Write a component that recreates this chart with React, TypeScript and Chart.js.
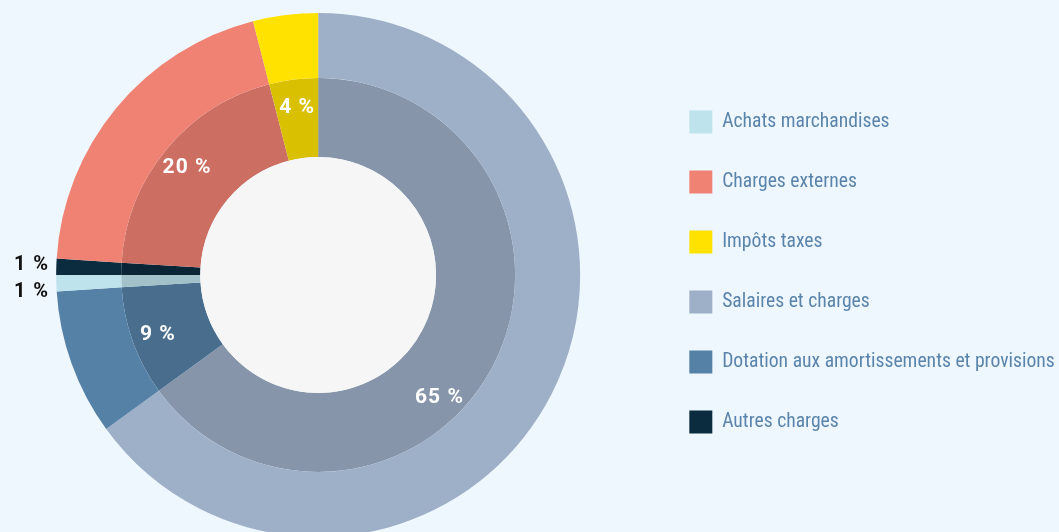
import React, { useEffect, useRef } from 'react';
import { Chart, registerables } from 'chart.js';

Chart.register(...registerables);

// ---- data (clockwise from 12 o'clock) ----
const categories = [
  'Salaires et charges',
  'Dotation aux amortissements et provisions',
  'Achats marchandises',
  'Autres charges',
  'Charges externes',
  'Impôts taxes',
];
const shares = [65, 9, 1, 1, 20, 4];
const percentLabels = ['65 %', '9 %', '1 %', '1 %', '20 %', '4 %'];
const legendOrder = [
  'Achats marchandises',
  'Charges externes',
  'Impôts taxes',
  'Salaires et charges',
  'Dotation aux amortissements et provisions',
  'Autres charges',
];
const sliceColors = ['#9eafc8', '#5681a6', '#bee3ec', '#0b2c3f', '#f08273', '#ffe200'];

// ---- style ----
const FAMILY = "'Roboto Condensed', 'Liberation Sans Narrow', 'DejaVu Sans Condensed', 'Noto Sans', sans-serif";
const LABEL_FAMILY = "Roboto, 'Noto Sans', sans-serif";
const BG = '#eff7fe';
const CENTER = '#f6f6f6';
const LEGEND_TEXT = '#5a84ab';

function shade(hex: string, f: number) {
  const n = parseInt(hex.slice(1), 16);
  const r = Math.round(((n >> 16) & 255) * f);
  const g = Math.round(((n >> 8) & 255) * f);
  const b = Math.round((n & 255) * f);
  return `rgb(${r},${g},${b})`;
}

const sliceLabelPlugin = {
  id: 'sliceLabels',
  afterDatasetsDraw(chart: any, _args: any, opts: any) {
    const ctx = chart.ctx;
    const outerMeta = chart.getDatasetMeta(0);
    const innerMeta = chart.getDatasetMeta(1);
    if (!innerMeta.data.length) return;
    const a0 = innerMeta.data[0];
    const cx = a0.x;
    const cy = a0.y;
    const outerR = outerMeta.data[0].outerRadius;
    ctx.save();
    ctx.beginPath();
    ctx.arc(cx, cy, a0.innerRadius, 0, Math.PI * 2);
    ctx.fillStyle = opts.centerColor;
    ctx.fill();

    ctx.textBaseline = 'middle';
    const small: { i: number; y: number }[] = [];
    ctx.font = `bold ${opts.fontSize}px ${LABEL_FAMILY}`;
    (ctx as any).letterSpacing = `${opts.letterSpacing}px`;
    innerMeta.data.forEach((arc: any, i: number) => {
      const mid = (arc.startAngle + arc.endAngle) / 2;
      if (shares[i] < opts.minInside) {
        small.push({ i, y: cy + outerR * Math.sin(mid) });
        return;
      }
      const shift = ((opts.angleShift[categories[i]] || 0) * Math.PI) / 180;
      const ang = mid + shift;
      const r = arc.innerRadius + (arc.outerRadius - arc.innerRadius) * 0.67;
      ctx.fillStyle = '#ffffff';
      ctx.textAlign = 'center';
      ctx.fillText(
        percentLabels[i],
        cx + r * Math.cos(ang) + opts.letterSpacing / 2,
        cy + r * Math.sin(ang) + 2
      );
    });
    small.sort((a, b) => a.y - b.y);
    if (small.length) {
      ctx.font = `bold ${opts.smallFontSize}px ${LABEL_FAMILY}`;
      (ctx as any).letterSpacing = `${opts.smallLetterSpacing}px`;
      const mean = small.reduce((s, o) => s + o.y, 0) / small.length;
      const gap = opts.smallGap;
      const ys = small.map((o) => o.y);
      for (let k = 1; k < ys.length; k++) if (ys[k] - ys[k - 1] < gap) ys[k] = ys[k - 1] + gap;
      const newMean = ys.reduce((s, v) => s + v, 0) / ys.length;
      ctx.fillStyle = '#111111';
      ctx.textAlign = 'right';
      small.forEach((o, k) => {
        ctx.fillText(
          percentLabels[o.i],
          cx - outerR - 8 + opts.smallLetterSpacing,
          ys[k] - newMean + mean + 3
        );
      });
    }
    ctx.restore();
  },
};

const legendShiftPlugin = {
  id: 'legendShift',
  afterLayout(chart: any, _args: any, opts: any) {
    const l = chart.legend;
    if (l) {
      l.top += opts.dy;
      l.bottom += opts.dy;
    }
  },
};

export default function App() {
  const ref = useRef<HTMLCanvasElement | null>(null);

  useEffect(() => {
    const canvas = ref.current;
    if (!canvas) return;
    const m = document.createElement('canvas').getContext('2d')!;
    m.font = `100px ${FAMILY}`;
    const longest = Math.max(...legendOrder.map((t) => m.measureText(t).width));
    const fs = Math.min(22, (100 * 333) / longest);

    const W = 1140;
    const chartRight = 692;
    const legendPad = 37;
    const box = 23;
    const legendWidth = legendPad + box + fs / 2 + (longest * fs) / 100;
    const padRight = Math.max(0, W - chartRight - legendWidth - 10);

    const chart = new Chart(canvas, {
      type: 'doughnut',
      data: {
        labels: categories,
        datasets: [
          {
            data: shares,
            backgroundColor: sliceColors,
            borderWidth: 0,
            weight: 65,
          },
          {
            data: shares,
            backgroundColor: sliceColors.map((c) => shade(c, 0.85)),
            borderWidth: 0,
            weight: 79,
          },
        ],
      },
      options: {
        responsive: false,
        animation: false,
        events: [],
        cutout: '45%',
        rotation: 0,
        layout: { padding: { left: 24, top: 13, bottom: 15, right: padRight } },
        plugins: {
          tooltip: { enabled: false },
          legend: {
            position: 'right',
            labels: {
              boxWidth: box,
              boxHeight: box,
              padding: legendPad,
              color: LEGEND_TEXT,
              font: { family: FAMILY, size: fs },
              sort: (a: any, b: any) => legendOrder.indexOf(a.text) - legendOrder.indexOf(b.text),
            },
          },
          sliceLabels: {
            centerColor: CENTER,
            fontSize: 21,
            letterSpacing: 1,
            smallFontSize: 20,
            smallLetterSpacing: 1.5,
            minInside: 2,
            smallGap: 27,
            angleShift: { 'Salaires et charges': 18 },
          },
          legendShift: { dy: -3 },
        } as any,
      },
      plugins: [sliceLabelPlugin, legendShiftPlugin],
    });
    return () => chart.destroy();
  }, []);

  return (
    <div
      style={{
        position: 'absolute',
        left: 0,
        top: 0,
        width: 1059,
        height: 532,
        overflow: 'hidden',
        background: BG,
      }}
    >
      <canvas
        ref={ref}
        width={1140}
        height={552}
        style={{ position: 'absolute', left: -40, top: 0, width: 1140, height: 552 }}
      />
    </div>
  );
}
